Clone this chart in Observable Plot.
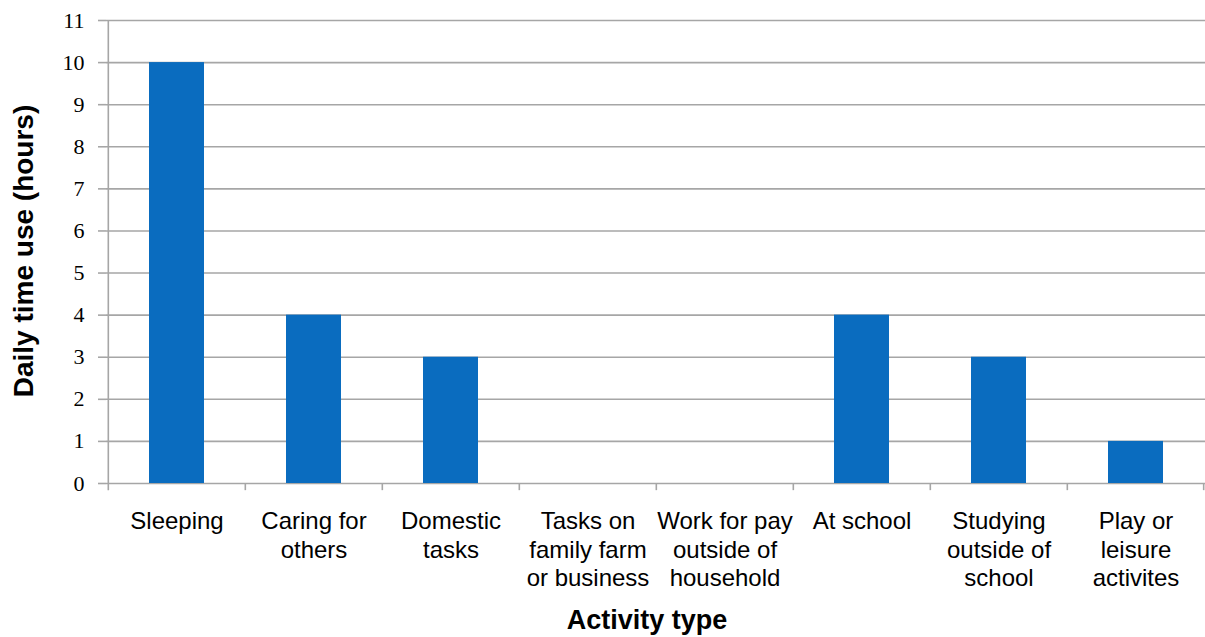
<!DOCTYPE html>
<html>
<head>
<meta charset="utf-8">
<script src="https://cdn.jsdelivr.net/npm/d3@7"></script>
<script src="https://cdn.jsdelivr.net/npm/@observablehq/plot@0.6"></script>
<style>
  html, body { margin: 0; padding: 0; background: #fff; }
  #chart svg { display: block; }
</style>
</head>
<body>
<div id="chart"></div>
<script>
const categories = [
  "Sleeping",
  "Caring for\nothers",
  "Domestic\ntasks",
  "Tasks on\nfamily farm\nor business",
  "Work for pay\noutside of\nhousehold",
  "At school",
  "Studying\noutside of\nschool",
  "Play or\nleisure\nactivites"
];
const hours = [10, 4, 3, 0, 0, 4, 3, 1];
const yTicks = [0, 1, 2, 3, 4, 5, 6, 7, 8, 9, 10, 11];
const xTitle = "Activity type";
const yTitle = "Daily time use (hours)";

const data = categories.map((c, i) => ({category: c, value: hours[i]}));

const width = 1205, height = 637;
const marginLeft = 106, marginRight = 0, marginTop = 20, marginBottom = 154;
const step = (width - marginLeft - marginRight) / categories.length;
const gridColor = "#a6a6a6";
const tickDepth = 0.17; // in hours, below the baseline

const chart = Plot.plot({
  width, height, marginLeft, marginRight, marginTop, marginBottom,
  style: {background: "#fff"},
  x: {domain: categories, paddingInner: 0.6, paddingOuter: 0.3, label: null},
  y: {domain: [0, 11], label: null},
  marks: [
    Plot.ruleY(yTicks, {stroke: gridColor, strokeWidth: 1.6}),
    Plot.barY(data, {x: "category", y: "value", fill: "#0a6cbf"}),
    // category boundary ticks (Excel style) and the y axis line
    Plot.ruleX(categories, {x: d => d, y1: (d, i) => i === 0 ? 11 : 0, y2: -tickDepth, dx: -step / 2, stroke: gridColor, strokeWidth: 1.6}),
    Plot.ruleX([categories[categories.length - 1]], {x: d => d, y1: 0, y2: -tickDepth, dx: step / 2 - 1, stroke: gridColor, strokeWidth: 1.6}),
    Plot.axisY({ticks: yTicks, tickSize: 8, tickPadding: 14, stroke: gridColor, strokeWidth: 1.6,
      fontSize: 22, fontFamily: "Liberation Serif", fill: "#000", strokeOpacity: 1, label: null}),
    Plot.axisX({tickSize: 0, tickPadding: 26, fontSize: 24, lineHeight: 1.17,
      fontFamily: "Liberation Sans, Arial, sans-serif", fill: "#000", label: null}),
    Plot.text([xTitle], {frameAnchor: "bottom", lineAnchor: "middle", dy: 137, dx: -9,
      fontSize: 27, fontWeight: "bold", fontFamily: "Liberation Sans, Arial, sans-serif", fill: "#000"}),
    Plot.text([yTitle], {frameAnchor: "left", rotate: -90, lineAnchor: "middle", textAnchor: "middle", dx: -82, dy: -1,
      fontSize: 28, fontWeight: "bold", fontFamily: "Liberation Sans, Arial, sans-serif", fill: "#000"})
  ]
});
document.getElementById("chart").appendChild(chart);
</script>
</body>
</html>
